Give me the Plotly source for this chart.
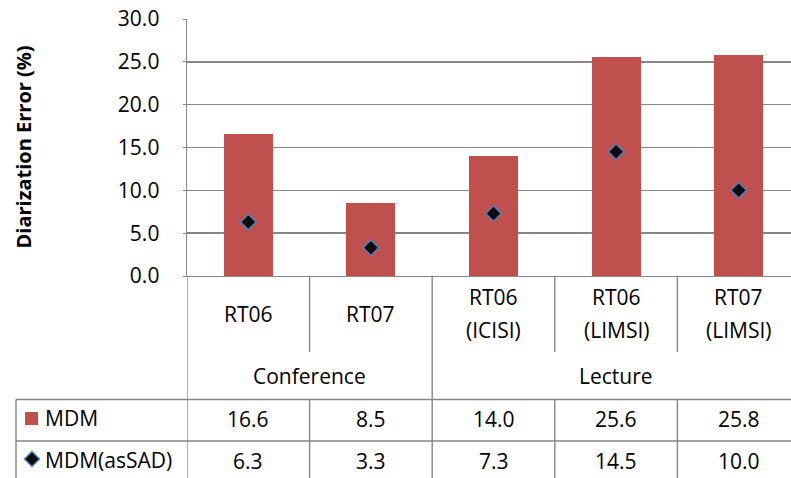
import plotly.graph_objects as go

categories = ["RT06", "RT07", "RT06<br>(ICISI)", "RT06<br>(LIMSI)", "RT07<br>(LIMSI)"]
groups = ["Conference", "Lecture"]
group_spans = [(0, 1), (2, 4)]
mdm = [16.6, 8.5, 14.0, 25.6, 25.8]
mdm_assad = [6.3, 3.3, 7.3, 14.5, 10.0]
series_names = ["MDM", "MDM(asSAD)"]
y_ticks = [0, 5, 10, 15, 20, 25, 30]

W, H = 791, 478
L, R, T, B = 187, 0, 19, 202
PW = W - L - R
PH = H - T - B
FONT = "Open Sans"
FS = 21
GRAY = "#868686"
RED = "#C0504D"
BLUE = "#4F81BD"


def px(x):
    return (x - L) / PW


def py(y):
    return (T + PH - y) / PH


n = len(categories)
xs = list(range(n))

fig = go.Figure()
fig.add_trace(go.Bar(x=xs, y=mdm, width=0.4, marker=dict(color=RED, line=dict(width=0)),
                     name=series_names[0], showlegend=False))
fig.add_trace(go.Scatter(x=xs, y=mdm_assad, mode="markers", name=series_names[1], showlegend=False,
                         marker=dict(symbol="diamond", size=12, color="#0D0D0D",
                                     line=dict(color=BLUE, width=1.5))))

shapes = []
ann = []
bottom = py(495)

# table vertical lines
for k in range(n + 1):
    xb = k - 0.5
    if k == 0 or k == 2:
        shapes.append(dict(type="line", xref="x", yref="paper", x0=xb, x1=xb, y0=py(276), y1=bottom,
                           line=dict(color=GRAY, width=1.4)))
    elif k < n:
        shapes.append(dict(type="line", xref="x", yref="paper", x0=xb, x1=xb, y0=py(276), y1=py(352),
                           line=dict(color=GRAY, width=1.4)))
        shapes.append(dict(type="line", xref="x", yref="paper", x0=xb, x1=xb, y0=py(399.5), y1=bottom,
                           line=dict(color=GRAY, width=1.4)))
# table horizontal lines
for yy in (399.5, 441):
    shapes.append(dict(type="line", xref="paper", yref="paper", x0=px(16), x1=1.0, y0=py(yy), y1=py(yy),
                       line=dict(color=GRAY, width=1.4)))
shapes.append(dict(type="line", xref="paper", yref="paper", x0=px(16), x1=px(16), y0=py(399.5), y1=bottom,
                   line=dict(color=GRAY, width=1.4)))

# legend keys
shapes.append(dict(type="rect", xref="paper", yref="paper", x0=px(25), x1=px(38), y0=py(425), y1=py(412),
                   fillcolor=RED, line=dict(width=0)))
cx, cy, r = 32, 459, 7.5
shapes.append(dict(type="path", xref="paper", yref="paper",
                   path=f"M {px(cx - r)},{py(cy)} L {px(cx)},{py(cy - r)} L {px(cx + r)},{py(cy)} L {px(cx)},{py(cy + r)} Z",
                   fillcolor="#0D0D0D", line=dict(color=BLUE, width=1.5)))

font = dict(family=FONT, size=FS, color="#000000")

# category labels
for i, c in enumerate(categories):
    lines = c.split("<br>")
    if len(lines) == 1:
        ann.append(dict(x=i, y=py(314), xref="x", yref="paper", text=lines[0], showarrow=False,
                        xanchor="center", yanchor="middle", font=font))
    else:
        for j, t in enumerate(lines):
            ann.append(dict(x=i, y=py(297 + 33 * j), xref="x", yref="paper", text=t, showarrow=False,
                            xanchor="center", yanchor="middle", font=font))
# group labels
for g, (a, b) in zip(groups, group_spans):
    ann.append(dict(x=(a + b) / 2, y=py(376), xref="x", yref="paper", text=g, showarrow=False,
                    xanchor="center", yanchor="middle", font=font))
# values
for i in range(n):
    ann.append(dict(x=i, y=py(419), xref="x", yref="paper", text=f"{mdm[i]:.1f}", showarrow=False,
                    xanchor="center", yanchor="middle", font=font))
    ann.append(dict(x=i, y=py(461), xref="x", yref="paper", text=f"{mdm_assad[i]:.1f}", showarrow=False,
                    xanchor="center", yanchor="middle", font=font))
# legend names
ann.append(dict(x=px(43), y=py(418), xref="paper", yref="paper", text=series_names[0], showarrow=False,
                xanchor="left", yanchor="middle", font=font))
ann.append(dict(x=px(43), y=py(460), xref="paper", yref="paper", text=series_names[1], showarrow=False,
                xanchor="left", yanchor="middle", font=font))
# y-axis title
ann.append(dict(x=px(23), y=0.5, xref="paper", yref="paper", text="<b>Diarization Error (%)</b>",
                showarrow=False, textangle=-90, xanchor="center", yanchor="middle",
                font=dict(family=FONT, size=FS - 1, color="#000000")))

fig.update_layout(
    width=W, height=H,
    margin=dict(l=L, r=R, t=T, b=B, pad=0),
    paper_bgcolor="white", plot_bgcolor="white",
    shapes=shapes, annotations=ann,
    showlegend=False,
    xaxis=dict(range=[-0.5, -0.5 + PW / 122.6], showticklabels=False, showgrid=False, zeroline=False,
               showline=True, linecolor=GRAY, linewidth=1.4, ticks="", fixedrange=True),
    yaxis=dict(range=[0, 30], tickvals=y_ticks, tickformat=".1f", showgrid=True, gridcolor=GRAY,
               gridwidth=1.4, zeroline=False, showline=True, linecolor=GRAY, linewidth=1.4,
               ticks="outside", ticklen=3, tickcolor=GRAY, ticklabelstandoff=19,
               tickfont=font, fixedrange=True),
    bargap=0,
)

fig.write_html("out.html", config={"displayModeBar": False, "staticPlot": True},
               post_script="document.body.style.margin='0';document.body.style.overflow='hidden';")
